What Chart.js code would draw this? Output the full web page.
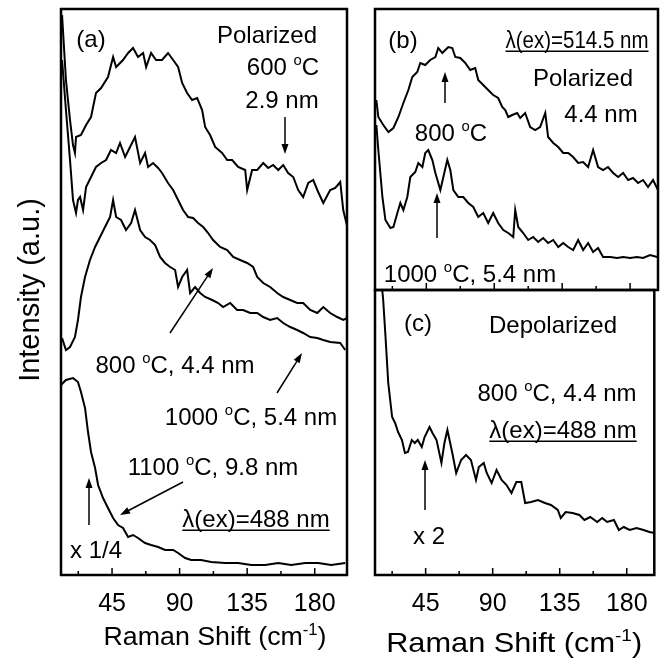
<!DOCTYPE html>
<html>
<head>
<meta charset="utf-8">
<title>Raman spectra</title>
<script src="https://cdn.jsdelivr.net/npm/chart.js@4.4.0/dist/chart.umd.min.js"></script>
<style>
  body { margin: 0; background: #fff; }
  #wrap { position: relative; width: 662px; height: 664px; background: #fff; }
  canvas { position: absolute; }
</style>
</head>
<body>
<div id="wrap">
  <canvas id="chartA" width="355" height="664" style="left:0;top:0"></canvas>
  <canvas id="chartB" width="307" height="300" style="left:355px;top:0"></canvas>
  <canvas id="chartC" width="307" height="379" style="left:355px;top:285px"></canvas>
</div>
<script>
// Raman shift (cm-1) and intensity (a.u.) for each spectrum

// (a) polarized, 488 nm
const shiftA600 = [11.7,14.3,17.0,19.0,20.3,21.0,24.3,27.7,31.0,34.3,37.7,42.3,45.7,47.7,52.3,55.7,59.0,62.3,65.7,67.7,71.0,74.3,78.3,82.3,85.7,89.0,91.7,95.0,98.3,101.7,105.0,107.0,110.3,113.7,118.3,121.7,125.0,129.0,133.7,135.0,138.3,141.7,145.7,149.0,152.3,155.7,159.0,162.3,165.7,169.0,172.3,175.7,179.0,182.3,185.7,190.3,193.7,197.0,199.0,201.7];
const intA600 = [560,495,455,430,422,438,440,450,458,482,487,498,518,508,515,522,527,518,522,508,522,515,515,522,515,508,492,482,475,477,465,448,440,428,422,415,415,408,405,385,405,405,412,407,410,405,410,402,398,385,378,392,395,383,372,385,387,393,365,348];

const shiftA800 = [11.7,14.3,17.0,19.0,21.0,22.3,23.7,25.7,27.7,31.0,34.3,37.7,41.0,44.3,47.7,50.3,53.7,57.0,60.3,63.7,67.0,69.0,72.3,75.7,78.3,82.3,85.7,89.0,92.3,95.7,99.0,102.3,105.7,109.0,112.3,117.0,121.7,125.7,130.3,135.0,139.0,141.7,145.7,150.3,155.0,159.0,163.7,168.3,172.3,177.0,181.7,185.7,190.3,195.0,199.0,201.7];
const intA800 = [515,465,415,375,362,375,378,365,388,398,408,412,415,425,422,432,418,428,438,412,422,408,412,407,402,392,385,375,365,358,357,352,348,342,335,328,325,318,315,312,308,298,292,288,282,278,275,272,272,265,262,268,262,258,255,257];

const shiftA1000 = [11.7,14.3,17.0,20.3,22.3,24.3,27.0,30.3,33.7,37.0,40.3,43.7,45.7,47.7,51.0,54.3,57.7,60.3,63.7,67.0,70.3,73.7,77.0,80.3,83.7,87.0,89.0,91.7,95.0,97.0,100.3,103.7,107.0,111.7,115.7,119.0,123.7,128.3,132.3,137.0,141.7,145.7,150.3,155.0,159.0,163.7,168.3,172.3,177.0,181.7,185.7,190.3,197.0,200.3];
const intA1000 = [237,225,228,238,255,278,298,315,328,338,348,358,375,358,355,345,352,365,345,338,335,330,318,312,308,305,288,298,305,282,288,282,278,275,272,268,272,265,265,262,262,258,255,257,252,248,245,242,238,237,235,233,232,225];

const shiftA1100 = [11.0,14.3,19.0,22.3,24.3,27.0,29.0,31.0,33.7,35.7,39.0,42.3,45.7,49.0,52.3,55.7,59.0,62.3,67.0,71.0,75.7,80.3,85.7,89.0,93.7,97.7,104.3,111.0,120.3,129.0,137.7,147.0,155.7,164.3,173.7,182.3,191.0,200.3];
const intA1100 = [190,195,197,193,183,167,143,123,107,90,77,67,57,50,47,38,40,37,32,30,28,25,25,22,17,15,15,13,12,12,10,10,12,10,12,12,10,12];

// (b) polarized, 514.5 nm
const shiftB800 = [11.9,13.2,16.5,19.9,23.2,26.5,29.8,33.1,35.7,39.0,41.0,44.3,47.6,51.0,52.9,55.6,57.6,59.6,62.2,64.2,67.5,70.8,74.1,77.4,79.4,82.7,86.0,89.3,92.6,95.3,97.3,99.3,101.9,105.2,107.2,110.5,113.8,117.1,120.4,123.8,125.7,129.1,132.4,135.7,139.0,142.3,145.6,148.9,152.2,155.5,158.8,162.1,165.4,168.8,172.1,175.4,178.7,182.0,185.3,188.6,191.9,195.2,198.5];
const intB800 = [190,173,165,158,162,173,187,200,213,218,227,225,230,233,242,237,240,243,242,233,232,227,220,222,210,205,200,195,192,183,180,173,175,177,172,177,163,160,163,177,153,147,143,137,137,133,127,128,123,140,123,120,123,117,113,117,110,112,107,110,103,110,100];

const shiftB1000 = [11.9,13.2,15.9,17.9,21.2,23.2,25.8,27.8,29.8,32.4,34.4,37.7,39.7,42.4,44.3,46.3,49.0,51.0,54.3,56.3,58.9,60.9,62.9,66.2,69.5,72.8,76.1,79.4,82.7,86.0,89.3,92.6,96.0,99.3,102.6,103.9,105.9,109.2,112.5,115.8,119.1,122.4,125.7,129.1,132.4,135.7,139.0,142.3,145.6,148.9,152.2,155.5,158.8,162.1,166.8,171.4,175.4,180.0,184.6,188.6,193.3,197.9];
const intB1000 = [165,140,93,70,62,63,77,87,80,93,113,118,127,123,137,140,130,117,100,113,130,120,100,93,93,87,83,73,77,67,77,67,60,57,53,80,63,57,50,53,48,52,47,50,43,47,43,40,50,40,47,38,42,33,33,32,33,32,33,32,35,33];

// (c) depolarized, 488 nm
const shiftC800 = [14.6,16.5,17.9,19.9,22.5,24.5,26.5,29.1,31.1,33.1,35.7,37.7,39.7,42.4,44.3,47.6,49.6,52.3,55.6,57.6,59.6,62.9,65.5,68.8,72.1,75.4,78.8,80.7,84.0,86.0,89.3,92.6,96.0,99.3,102.6,105.9,109.2,111.8,115.8,120.4,125.1,129.1,133.7,135.7,139.0,143.6,148.2,151.6,155.5,160.2,163.5,166.8,171.4,174.7,178.0,182.0,186.6,191.3,195.2,198.5];
const intC800 = [305,275,242,192,158,152,143,135,122,123,135,132,135,128,138,148,142,135,112,132,145,122,102,115,120,115,95,108,112,102,92,105,95,90,82,93,93,72,73,75,72,70,65,57,63,62,60,55,58,53,57,53,55,45,48,45,47,45,43,42];

const majorTicks = [45, 90, 135, 180];
const minorTicks = [22.5, 67.5, 112.5, 157.5];

const FONT = "'Liberation Sans', Arial, Helvetica, sans-serif";

// text labels and arrows, placed relative to the plot box
const notesA = [
  { text: "(a)", dx: 30, dy: 29, size: 24 },
  { text: "Polarized", dx: 206, dy: 25, size: 24 },
  { text: "600 ^{o}C", dx: 222, dy: 57, size: 24 },
  { text: "2.9 nm", dx: 221, dy: 90, size: 24 },
  { text: "800 ^{o}C, 4.4 nm", dx: 114, dy: 355, size: 24 },
  { text: "1000 ^{o}C, 5.4 nm", dx: 190, dy: 407, size: 24 },
  { text: "1100 ^{o}C, 9.8 nm", dx: 152, dy: 457, size: 24 },
  { text: "\u03bb(ex)=488 nm", dx: 195, dy: 509, size: 24, underline: true },
  { text: "x 1/4", dx: 35, dy: 540, size: 24 }
];
const arrowsA = [
  [224, 108, 224, 145],
  [109, 324, 152, 259],
  [216, 384, 241, 344],
  [122, 473, 59, 506],
  [28, 516, 28, 469]
];

const notesB = [
  { text: "(b)", dx: 28, dy: 30, size: 24 },
  { text: "\u03bb(ex)=514.5 nm", dx: 202, dy: 30, size: 24, width: 143, underline: true },
  { text: "Polarized", dx: 208, dy: 68, size: 24 },
  { text: "4.4 nm", dx: 226, dy: 104, size: 24 },
  { text: "800 ^{o}C", dx: 76, dy: 123, size: 24 },
  { text: "1000 ^{o}C, 5.4 nm", dx: 95, dy: 264, size: 24 }
];
const arrowsB = [
  [70, 94, 70, 63],
  [62, 229, 62, 184]
];

const notesC = [
  { text: "(c)", dx: 43, dy: 32, size: 24 },
  { text: "Depolarized", dx: 178, dy: 34, size: 24 },
  { text: "800 ^{o}C, 4.4 nm", dx: 182, dy: 102, size: 24 },
  { text: "\u03bb(ex)=488 nm", dx: 188, dy: 139, size: 24, underline: true },
  { text: "x 2", dx: 54, dy: 245, size: 24 }
];
const arrowsC = [
  [50, 220, 50, 170]
];

function toPoints(xs, ys) {
  return xs.map((x, i) => ({ x: x, y: ys[i] }));
}

// draws text with ^{...} pieces raised and smaller, centred on (cx, cy);
// an optional width squeezes or stretches the run horizontally
function drawRich(ctx, str, cx, cy, size, underline, width) {
  const parts = [];
  str.split(/(\^\{[^}]*\})/).forEach(s => {
    if (!s) return;
    if (s.startsWith("^{")) parts.push({ t: s.slice(2, -1), sup: true });
    else parts.push({ t: s, sup: false });
  });
  const supSize = size * 0.62;
  let w = 0;
  parts.forEach(p => {
    ctx.font = (p.sup ? supSize : size) + "px " + FONT;
    p.w = ctx.measureText(p.t).width;
    w += p.w;
  });
  const sx = width ? width / w : 1;
  ctx.save();
  ctx.translate(cx, cy);
  ctx.scale(sx, 1);
  const base = size * 0.36;
  let x = -w / 2;
  ctx.fillStyle = "#000";
  ctx.textAlign = "left";
  ctx.textBaseline = "alphabetic";
  parts.forEach(p => {
    ctx.font = (p.sup ? supSize : size) + "px " + FONT;
    ctx.fillText(p.t, x, p.sup ? base - size * 0.4 : base);
    x += p.w;
  });
  ctx.restore();
  if (underline) {
    const half = (w * sx) / 2;
    ctx.lineWidth = 1.5;
    ctx.beginPath();
    ctx.moveTo(cx - half, cy + base + 3.5);
    ctx.lineTo(cx + half, cy + base + 3.5);
    ctx.stroke();
  }
}

function drawArrow(ctx, x1, y1, x2, y2) {
  const ang = Math.atan2(y2 - y1, x2 - x1);
  const hl = 10, hw = 3.5;
  ctx.lineWidth = 1.5;
  ctx.beginPath();
  ctx.moveTo(x1, y1);
  ctx.lineTo(x2 - hl * 0.8 * Math.cos(ang), y2 - hl * 0.8 * Math.sin(ang));
  ctx.stroke();
  ctx.beginPath();
  ctx.moveTo(x2, y2);
  ctx.lineTo(x2 - hl * Math.cos(ang) + hw * Math.sin(ang), y2 - hl * Math.sin(ang) - hw * Math.cos(ang));
  ctx.lineTo(x2 - hl * Math.cos(ang) - hw * Math.sin(ang), y2 - hl * Math.sin(ang) + hw * Math.cos(ang));
  ctx.closePath();
  ctx.fill();
}

// frame, inward ticks, notes and axis titles
function decoPlugin(notes, arrows, extra) {
  return {
    id: "deco",
    afterDraw(chart) {
      const ctx = chart.ctx;
      const a = chart.chartArea;
      const xs = chart.scales.x;
      ctx.save();
      ctx.strokeStyle = "#000";
      ctx.fillStyle = "#000";
      ctx.lineWidth = 2.5;
      ctx.strokeRect(a.left, a.top, a.right - a.left, a.bottom - a.top);

      ctx.lineWidth = 1.5;
      majorTicks.forEach(v => {
        const px = xs.getPixelForValue(v);
        ctx.beginPath();
        ctx.moveTo(px, a.bottom);
        ctx.lineTo(px, a.bottom - 7);
        ctx.stroke();
      });
      minorTicks.forEach(v => {
        const px = xs.getPixelForValue(v);
        ctx.beginPath();
        ctx.moveTo(px, a.bottom);
        ctx.lineTo(px, a.bottom - 4);
        ctx.stroke();
      });

      notes.forEach(n => drawRich(ctx, n.text, a.left + n.dx, a.top + n.dy, n.size, n.underline, n.width));
      arrows.forEach(r => drawArrow(ctx, a.left + r[0], a.top + r[1], a.left + r[2], a.top + r[3]));

      if (extra.xTitle) {
        drawRich(ctx, "Raman Shift (cm^{-1})", (a.left + a.right) / 2 + extra.xTitle.dx,
          a.bottom + extra.xTitle.dy, extra.xTitle.size, false, extra.xTitle.width);
      }
      if (extra.yTitle) {
        ctx.translate(extra.yTitle.x, (a.top + a.bottom) / 2 + extra.yTitle.dy);
        ctx.rotate(-Math.PI / 2);
        drawRich(ctx, "Intensity (a.u.)", 0, 0, extra.yTitle.size);
      }
      ctx.restore();
    }
  };
}

function makeChart(id, series, xMax, yMax, padding, showTicks, notes, arrows, extra) {
  const xScale = {
    type: "linear",
    min: 11,
    max: xMax,
    display: showTicks,
    afterBuildTicks: axis => { axis.ticks = majorTicks.map(v => ({ value: v })); },
    grid: { display: false, drawTicks: false, tickLength: 0 },
    border: { display: false },
    ticks: {
      autoSkip: false,
      maxRotation: 0,
      padding: 14,
      color: "#000",
      font: { family: FONT, size: 25 }
    }
  };
  if (showTicks) xScale.afterFit = axis => { axis.height = 42; };

  return new Chart(document.getElementById(id), {
    type: "line",
    data: {
      datasets: series.map(s => ({
        data: s,
        borderColor: "#000",
        borderWidth: 2,
        pointRadius: 0,
        tension: 0,
        fill: false
      }))
    },
    options: {
      responsive: false,
      animation: false,
      devicePixelRatio: 1,
      layout: { padding: padding },
      plugins: { legend: { display: false }, tooltip: { enabled: false } },
      scales: {
        x: xScale,
        y: { min: 0, max: yMax, display: false }
      }
    },
    plugins: [decoPlugin(notes, arrows, extra)]
  });
}

makeChart("chartA",
  [toPoints(shiftA600, intA600), toPoints(shiftA800, intA800),
   toPoints(shiftA1000, intA1000), toPoints(shiftA1100, intA1100)],
  201.5, 566, { left: 61, right: 8, top: 9, bottom: 47 }, true, notesA, arrowsA,
  { xTitle: { dx: 11, dy: 61, size: 25.5, width: 223 }, yTitle: { x: 29, dy: -2, size: 29 } });

makeChart("chartB",
  [toPoints(shiftB800, intB800), toPoints(shiftB1000, intB1000)],
  198.5, 281, { left: 20, right: 4, top: 9, bottom: 10 }, false, notesB, arrowsB, {});

makeChart("chartC",
  [toPoints(shiftC800, intC800)],
  198.5, 285, { left: 20, right: 4, top: 5, bottom: 47 }, true, notesC, arrowsC,
  { xTitle: { dx: -0.5, dy: 67, size: 28, width: 256 } });
</script>
</body>
</html>
